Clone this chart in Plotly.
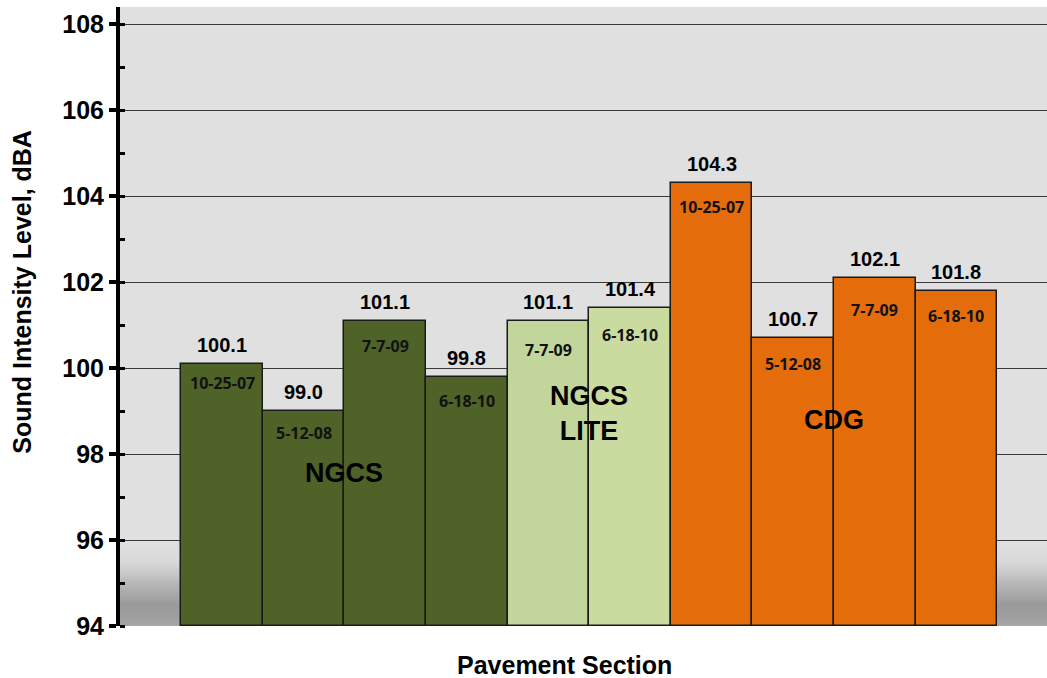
import plotly.graph_objects as go

# Sound intensity measurements by pavement section and test date
sections = ["NGCS", "NGCS", "NGCS", "NGCS", "NGCS LITE", "NGCS LITE",
            "CDG", "CDG", "CDG", "CDG"]
test_dates = ["10-25-07", "5-12-08", "7-7-09", "6-18-10", "7-7-09", "6-18-10",
              "10-25-07", "5-12-08", "7-7-09", "6-18-10"]
sil_dba = [100.1, 99.0, 101.1, 99.8, 101.1, 101.4, 104.3, 100.7, 102.1, 101.8]

group_names = ["NGCS", "NGCS<br>LITE", "CDG"]

# styling
bar_colors = ["#4F6228", "#4F6228", "#4F6228", "#4F6228", "#C2D69B", "#CADBA0",
              "#E46C0A", "#E46C0A", "#E46C0A", "#E46C0A"]
date_offsets = [19, 22, 25, 24, 29, 27, 24, 26, 32, 25]
group_pos = [(1.5, 97.57), (4.5, 98.94), (7.5, 98.8)]

Y_MIN, Y_MAX = 94, 108.4
xs = list(range(len(sil_dba)))

fig = go.Figure()
fig.add_trace(go.Bar(
    x=xs, y=[v - Y_MIN for v in sil_dba], base=Y_MIN, width=1,
    marker=dict(color=bar_colors, line=dict(color="#1a1a1a", width=1.5)),
    hoverinfo="skip", showlegend=False,
))

# graded floor band between 94 and 96
stops = [(0.0, 224), (0.25, 218), (0.55, 178), (0.75, 154), (0.9, 158), (1.0, 168)]


def shade(t):
    for (t0, c0), (t1, c1) in zip(stops[:-1], stops[1:]):
        if t0 <= t <= t1:
            c = c0 + (c1 - c0) * (t - t0) / (t1 - t0)
            return int(round(c))
    return stops[-1][1]


shapes = []
n = 50
for i in range(n):
    y_top = 96 - 2 * i / n
    y_bot = 96 - 2 * (i + 1) / n
    g = shade((i + 0.5) / n)
    # slight overlap keeps the bands seamless
    shapes.append(dict(type="rect", xref="paper", yref="y", x0=0, x1=1,
                       y0=y_bot - (0.03 if i < n - 1 else 0), y1=y_top,
                       layer="below", line=dict(width=0),
                       fillcolor=f"rgb({g},{g},{g})"))

annotations = []
for x, v, d, off in zip(xs, sil_dba, test_dates, date_offsets):
    annotations.append(dict(x=x, y=v, text=f"<b>{v:.1f}</b>", showarrow=False,
                            yanchor="middle", yshift=19,
                            font=dict(family="Liberation Sans, Arial", size=20, color="black")))
    annotations.append(dict(x=x, y=v, text=f"<b>{d}</b>", showarrow=False,
                            yanchor="middle", yshift=-off,
                            font=dict(family="Open Sans", size=16, color="#111",
                                      weight=700)))

for name, (gx, gy) in zip(group_names, group_pos):
    annotations.append(dict(x=gx, y=gy, text=f"<b>{name}</b>", showarrow=False,
                            yanchor="middle",
                            font=dict(family="Liberation Sans, Arial", size=27, color="black")))

annotations.append(dict(xref="paper", yref="paper", x=0.48, y=0, yanchor="middle",
                        yshift=-39, text="<b>Pavement Section</b>", showarrow=False,
                        font=dict(family="Liberation Sans, Arial", size=25, color="black")))
annotations.append(dict(xref="paper", yref="paper", x=0, y=0.54, xanchor="center",
                        yanchor="middle", xshift=-98, textangle=-90,
                        text="<b>Sound Intensity Level, dBA</b>", showarrow=False,
                        font=dict(family="Liberation Sans, Arial", size=25, color="black")))

fig.update_layout(
    width=1047, height=678,
    margin=dict(l=120, r=0, t=7, b=52),
    paper_bgcolor="white", plot_bgcolor="#E0E0E0",
    bargap=0,
    shapes=shapes, annotations=annotations,
    xaxis=dict(range=[-1.25, 10.11], showticklabels=False, ticks="",
               showgrid=False, zeroline=False, showline=False, fixedrange=True),
    yaxis=dict(range=[Y_MIN, Y_MAX], tick0=94, dtick=2, showgrid=True,
               gridcolor="#3a3a3a", gridwidth=1, zeroline=False,
               showline=True, linecolor="black", linewidth=4,
               ticks="outside", ticklen=7, tickwidth=4, tickcolor="black",
               tickfont=dict(family="Liberation Sans, Arial", size=25, color="black"),
               tickprefix="<b>", ticksuffix="</b>",
               minor=dict(dtick=1, ticks="inside", ticklen=5, tickwidth=3,
                          tickcolor="black", showgrid=False),
               fixedrange=True),
    showlegend=False,
)

fig.write_html("out.html")
